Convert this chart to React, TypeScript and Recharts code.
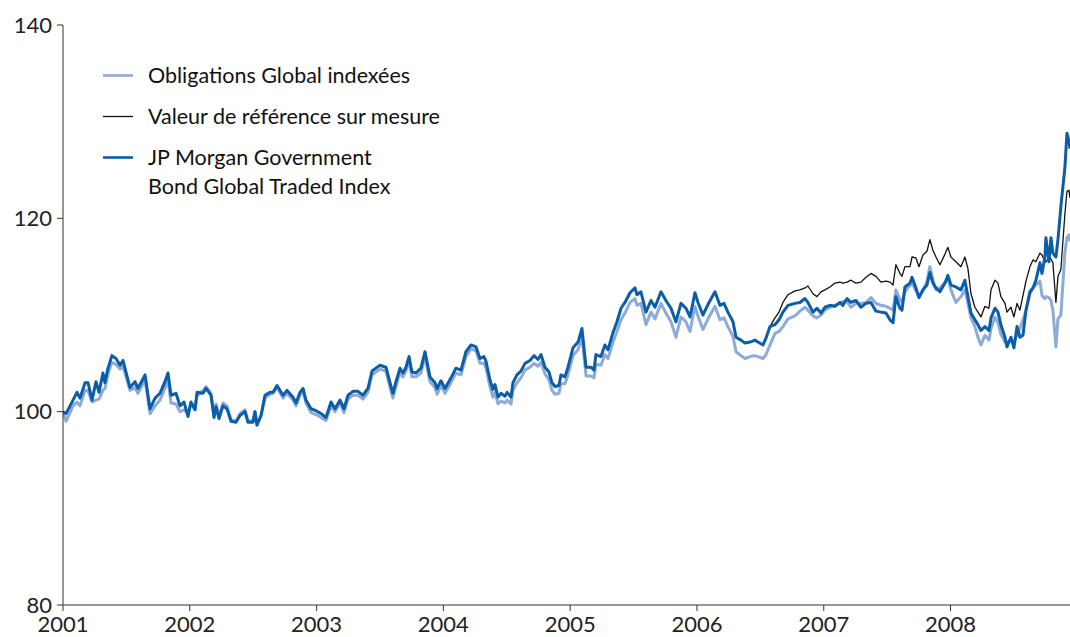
import React from 'react';
import { LineChart, Line, XAxis, YAxis, Legend } from 'recharts';

const YEAR_TICKS = [2001, 2002, 2003, 2004, 2005, 2006, 2007, 2008];
const VALUE_TICKS = [80, 100, 120, 140];

// Dates as decimal years
const DATES = [
  // 2001
  2001.000, 2001.024, 2001.079, 2001.110, 2001.134, 2001.174, 2001.197, 2001.229, 2001.260, 2001.284,
  2001.315, 2001.331, 2001.355, 2001.386, 2001.418, 2001.450, 2001.473, 2001.528, 2001.568, 2001.591,
  2001.647, 2001.686, 2001.726, 2001.765, 2001.804, 2001.828, 2001.852, 2001.891, 2001.923, 2001.954, 2001.986,
  // 2002
  2002.009, 2002.041, 2002.057, 2002.104, 2002.128, 2002.167, 2002.191, 2002.207, 2002.230, 2002.262,
  2002.293, 2002.325, 2002.364, 2002.396, 2002.435, 2002.459, 2002.498, 2002.514, 2002.530, 2002.562,
  2002.593, 2002.632, 2002.656, 2002.688, 2002.735, 2002.767, 2002.814, 2002.838, 2002.869, 2002.893,
  2002.916, 2002.956, 2002.995,
  // 2003
  2003.035, 2003.074, 2003.114, 2003.145, 2003.185, 2003.216, 2003.248, 2003.287, 2003.326, 2003.366,
  2003.405, 2003.437, 2003.468, 2003.500, 2003.547, 2003.579, 2003.602, 2003.626, 2003.658, 2003.681,
  2003.705, 2003.729, 2003.752, 2003.784, 2003.823, 2003.855, 2003.894, 2003.934, 2003.950, 2003.981,
  // 2004
  2004.013, 2004.060, 2004.099, 2004.139, 2004.178, 2004.218, 2004.257, 2004.289, 2004.320, 2004.336,
  2004.367, 2004.391, 2004.407, 2004.431, 2004.454, 2004.486, 2004.502, 2004.533, 2004.549, 2004.580,
  2004.612, 2004.644, 2004.683, 2004.715, 2004.746, 2004.770, 2004.801, 2004.833, 2004.856, 2004.880,
  2004.912, 2004.927, 2004.959, 2004.983,
  // 2005
  2005.022, 2005.062, 2005.093, 2005.125, 2005.164, 2005.188, 2005.203, 2005.243, 2005.274, 2005.298,
  2005.338, 2005.369, 2005.401, 2005.432, 2005.472, 2005.511, 2005.527, 2005.558, 2005.598, 2005.637,
  2005.669, 2005.716, 2005.755, 2005.795, 2005.834, 2005.874, 2005.913, 2005.945, 2005.984,
  // 2006
  2006.008, 2006.047, 2006.095, 2006.142, 2006.181, 2006.213, 2006.244, 2006.284, 2006.308, 2006.347,
  2006.379, 2006.418, 2006.457, 2006.481, 2006.521, 2006.544, 2006.576, 2006.615, 2006.647, 2006.678,
  2006.718, 2006.773, 2006.812, 2006.852, 2006.875, 2006.915, 2006.946, 2006.978,
  // 2007
  2007.009, 2007.049, 2007.088, 2007.128, 2007.151, 2007.183, 2007.214, 2007.254, 2007.293, 2007.333,
  2007.372, 2007.412, 2007.451, 2007.491, 2007.522, 2007.546, 2007.569, 2007.601, 2007.617, 2007.640,
  2007.680, 2007.696, 2007.727, 2007.751, 2007.782, 2007.814, 2007.837, 2007.861, 2007.885, 2007.916,
  2007.956, 2007.979,
  // 2008
  2008.003, 2008.042, 2008.082, 2008.113, 2008.137, 2008.161, 2008.192, 2008.216, 2008.240, 2008.271,
  2008.303, 2008.319, 2008.350, 2008.374, 2008.397, 2008.429, 2008.445, 2008.476, 2008.500, 2008.524,
  2008.547, 2008.571, 2008.595, 2008.626, 2008.650, 2008.673, 2008.705, 2008.721, 2008.744, 2008.752,
  2008.776, 2008.792, 2008.807, 2008.831, 2008.847, 2008.870, 2008.902, 2008.918, 2008.934, 2008.942,
];

// JP Morgan Government Bond Global Traded Index
const JPM = [
  100.0, 99.8, 101.2, 102.0, 101.4, 103.0, 103.0, 101.2, 103.1, 102.0,
  104.0, 103.0, 104.5, 105.8, 105.5, 104.8, 105.3, 102.5, 103.1, 102.4,
  103.8, 100.3, 101.4, 101.9, 103.1, 104.0, 101.7, 101.9, 100.6, 101.0, 99.5,
  101.0, 100.2, 102.0, 101.9, 102.4, 101.7, 99.4, 100.5, 99.3, 100.6,
  100.3, 99.0, 98.9, 99.6, 100.0, 98.9, 98.9, 100.0, 98.6, 99.6,
  101.7, 102.0, 102.0, 102.7, 101.7, 102.2, 101.5, 100.9, 102.0, 102.4,
  101.2, 100.3, 100.1,
  99.8, 99.4, 101.0, 100.3, 101.2, 100.3, 101.7, 102.1, 102.1, 101.7,
  102.4, 104.2, 104.5, 104.8, 104.6, 103.0, 101.9, 103.1, 104.5, 104.0,
  104.6, 105.7, 104.1, 104.0, 104.5, 106.2, 103.6, 103.0, 102.4, 103.2,
  102.4, 103.5, 104.5, 104.3, 106.2, 106.9, 106.7, 105.5, 105.7, 105.2,
  103.3, 102.3, 102.8, 101.5, 101.9, 101.6, 102.0, 101.5, 103.0, 103.8,
  104.2, 105.0, 105.3, 105.8, 105.4, 105.9, 104.6, 104.1, 103.0, 102.6,
  102.7, 103.8, 103.6, 104.6,
  106.6, 107.2, 108.6, 104.6, 104.6, 104.3, 105.9, 105.7, 106.9, 106.4,
  108.2, 109.3, 110.7, 111.3, 112.3, 112.8, 112.1, 112.4, 110.3, 111.5,
  110.8, 112.4, 111.5, 110.7, 109.3, 111.2, 110.7, 109.8, 112.3,
  111.3, 110.0, 111.3, 112.4, 111.0, 111.2, 110.3, 109.3, 107.7, 107.4,
  107.1, 107.2, 107.4, 107.2, 106.9, 107.6, 108.8, 109.0, 109.5, 110.3,
  111.0, 111.2, 111.3, 111.7, 111.3, 110.3, 110.7, 110.2,
  110.8, 111.0, 110.9, 111.3, 111.0, 111.7, 111.3, 111.5, 110.8, 111.2,
  111.3, 110.4, 110.3, 110.2, 109.5, 109.2, 111.9, 110.7, 110.5, 112.9,
  113.3, 113.9, 112.8, 111.8, 112.6, 113.1, 114.4, 113.3, 112.8, 112.4,
  113.3, 114.1,
  113.1, 112.9, 112.6, 113.6, 111.9, 110.2, 109.5, 109.0, 108.4, 108.8,
  108.4, 109.7, 110.7, 110.3, 109.0, 107.7, 106.7, 107.7, 106.6, 108.8,
  107.7, 107.9, 110.5, 112.4, 112.8, 113.6, 115.4, 114.3, 116.0, 118.0,
  115.5, 118.0, 116.4, 116.0, 117.8, 121.2, 125.3, 128.8, 128.0, 127.2,
];

// Obligations Global indexées
const OGI = [
  100.0, 99.0, 100.6, 101.0, 100.6, 102.2, 102.2, 101.0, 101.2, 101.3,
  102.2, 102.4, 103.9, 105.1, 104.9, 104.4, 104.7, 102.2, 102.5, 101.9,
  103.3, 99.8, 100.6, 101.2, 102.4, 103.3, 100.9, 100.8, 100.0, 100.2, 99.8,
  100.8, 100.3, 101.6, 102.2, 102.6, 101.9, 99.8, 100.8, 99.6, 100.9,
  100.6, 99.2, 99.0, 99.8, 100.2, 99.1, 99.0, 100.0, 98.7, 99.6,
  101.4, 101.8, 101.9, 102.5, 101.4, 101.9, 101.2, 100.6, 101.7, 102.1,
  100.9, 99.9, 99.7,
  99.4, 99.1, 100.6, 100.0, 100.9, 99.9, 101.3, 101.7, 101.7, 101.3,
  102.0, 103.8, 104.1, 104.4, 104.2, 102.5, 101.4, 102.6, 104.1, 103.6,
  104.2, 105.3, 103.6, 103.6, 104.0, 105.7, 103.1, 102.5, 101.8, 102.7,
  101.9, 103.0, 104.0, 103.8, 105.7, 106.5, 106.3, 105.0, 105.0, 104.5,
  102.6, 101.5, 102.0, 100.8, 101.1, 100.9, 101.2, 100.8, 102.2, 103.0,
  103.5, 104.3, 104.6, 105.0, 104.7, 105.1, 103.9, 103.3, 102.2, 101.8,
  101.9, 102.9, 102.9, 103.8,
  105.8, 106.4, 107.8, 103.7, 103.7, 103.5, 104.9, 104.8, 105.9, 105.5,
  107.2, 108.3, 109.5, 110.2, 111.3, 111.7, 111.0, 111.2, 109.0, 110.3,
  109.6, 111.2, 110.2, 109.3, 107.7, 109.8, 109.3, 108.3, 110.9,
  109.9, 108.5, 109.8, 110.9, 109.5, 109.7, 108.8, 107.8, 106.2, 105.8,
  105.5, 105.7, 105.8, 105.7, 105.5, 105.9, 106.9, 108.1, 108.3, 108.8,
  109.6, 109.9, 110.4, 110.8, 110.5, 109.9, 109.7, 110.0,
  110.5, 110.8, 111.0, 111.2, 111.4, 111.4, 110.8, 111.2, 111.2, 111.3,
  111.8, 111.2, 111.0, 110.9, 110.7, 110.5, 112.6, 111.6, 111.3, 112.4,
  113.1, 113.3, 112.5, 111.9, 112.5, 113.5, 115.0, 113.6, 112.6, 112.8,
  113.4, 113.8,
  112.6, 111.3, 111.9, 112.6, 111.2, 109.7, 108.8, 107.7, 106.9, 107.9,
  107.4, 108.6, 109.8, 109.2, 108.0, 107.2, 107.1, 107.4, 107.1, 108.0,
  108.6, 109.5, 110.5, 112.2, 112.8, 113.1, 113.5, 112.0, 111.7, 111.9,
  111.8, 111.5, 110.5, 106.7, 109.6, 110.0, 116.5, 118.0, 118.3, 117.6,
];

// Valeur de référence sur mesure (coincides with JPM until mid-2006)
const BENCH = [
  100.0, 99.8, 101.2, 102.0, 101.4, 103.0, 103.0, 101.2, 103.1, 102.0,
  104.0, 103.0, 104.5, 105.8, 105.5, 104.8, 105.3, 102.5, 103.1, 102.4,
  103.8, 100.3, 101.4, 101.9, 103.1, 104.0, 101.7, 101.9, 100.6, 101.0, 99.5,
  101.0, 100.2, 102.0, 101.9, 102.4, 101.7, 99.4, 100.5, 99.3, 100.6,
  100.3, 99.0, 98.9, 99.6, 100.0, 98.9, 98.9, 100.0, 98.6, 99.6,
  101.7, 102.0, 102.0, 102.7, 101.7, 102.2, 101.5, 100.9, 102.0, 102.4,
  101.2, 100.3, 100.1,
  99.8, 99.4, 101.0, 100.3, 101.2, 100.3, 101.7, 102.1, 102.1, 101.7,
  102.4, 104.2, 104.5, 104.8, 104.6, 103.0, 101.9, 103.1, 104.5, 104.0,
  104.6, 105.7, 104.1, 104.0, 104.5, 106.2, 103.6, 103.0, 102.4, 103.2,
  102.4, 103.5, 104.5, 104.3, 106.2, 106.9, 106.7, 105.5, 105.7, 105.2,
  103.3, 102.3, 102.8, 101.5, 101.9, 101.6, 102.0, 101.5, 103.0, 103.8,
  104.2, 105.0, 105.3, 105.8, 105.4, 105.9, 104.6, 104.1, 103.0, 102.6,
  102.7, 103.8, 103.6, 104.6,
  106.6, 107.2, 108.6, 104.6, 104.6, 104.3, 105.9, 105.7, 106.9, 106.4,
  108.2, 109.3, 110.7, 111.3, 112.3, 112.8, 112.1, 112.4, 110.3, 111.5,
  110.8, 112.4, 111.5, 110.7, 109.3, 111.2, 110.7, 109.8, 112.3,
  111.3, 110.0, 111.3, 112.4, 111.0, 111.2, 110.3, 109.3, 107.7, 107.4,
  107.1, 107.2, 107.4, 107.2, 106.9, 107.6, 108.8, 109.7, 110.3, 111.3,
  112.1, 112.5, 112.6, 112.8, 113.0, 112.2, 111.9, 112.4,
  112.6, 112.9, 113.3, 113.4, 113.3, 113.4, 113.6, 113.3, 113.4, 113.9,
  114.3, 114.0, 113.4, 113.5, 113.4, 113.1, 115.2, 114.3, 114.0, 115.0,
  115.0, 116.0, 115.9, 115.0, 116.2, 116.6, 117.8, 116.7, 116.0, 115.2,
  116.3, 117.0,
  116.0, 115.5, 115.0, 116.0, 114.8, 112.2, 110.8, 110.3, 109.8, 110.9,
  110.7, 112.6, 113.6, 113.3, 111.9, 111.2, 110.3, 110.8, 109.8, 111.2,
  110.5, 112.0, 113.5, 115.0, 115.7, 115.5, 116.4, 116.2, 115.5, 115.5,
  116.0, 115.8, 115.4, 111.3, 114.0, 114.7, 120.5, 122.8, 122.9, 122.1,
];

const SERIES = [
  { key: 'ogi', name: 'Obligations Global indexées', color: '#8EAAD9', width: 3 },
  { key: 'bench', name: 'Valeur de référence sur mesure', color: '#111111', width: 1.3 },
  { key: 'jpm', name: 'JP Morgan Government\nBond Global Traded Index', color: '#0A5EA8', width: 3 },
];

const data = DATES.map((t, i) => ({ t, ogi: OGI[i], bench: BENCH[i], jpm: JPM[i] }));

const FONT = 'Lato, "Noto Sans", sans-serif';

const LegendContent = () => (
  <div style={{ fontFamily: FONT, fontSize: 21.5, color: '#111' }}>
    {SERIES.map((s) => (
      <div key={s.key} style={{ display: 'flex', alignItems: 'flex-start', marginBottom: 12 }}>
        <svg width={30} height={29} style={{ flex: 'none' }}>
          <line x1={0} x2={30} y1={14.5} y2={14.5} stroke={s.color} strokeWidth={s.key === 'bench' ? 1.3 : 2.6} />
        </svg>
        <span style={{ marginLeft: 15, lineHeight: '29px', whiteSpace: 'pre-line' }}>{s.name}</span>
      </div>
    ))}
  </div>
);

export default function App() {
  return (
    <div style={{ position: 'absolute', left: 0, top: 0, background: '#fff' }}>
      <LineChart width={1070} height={637} data={data} margin={{ top: 25, right: 0, bottom: 0, left: 0 }}>
        <XAxis
          dataKey="t"
          type="number"
          domain={[2001, 2008.942]}
          ticks={YEAR_TICKS}
          allowDataOverflow
          height={32}
          stroke="#333"
          tickSize={6}
          tickMargin={5}
          tick={{ fontSize: 22, fill: '#222', fontFamily: FONT }}
        />
        <YAxis
          type="number"
          domain={[80, 140]}
          ticks={VALUE_TICKS}
          width={63}
          stroke="#333"
          tickSize={6}
          tickMargin={5}
          tick={{ fontSize: 22, fill: '#222', fontFamily: FONT }}
        />
        <Legend
          layout="vertical"
          align="center"
          verticalAlign="middle"
          content={<LegendContent />}
          wrapperStyle={{ position: 'absolute', left: 103, top: 60.5, width: 460 }}
        />
        {SERIES.map((s) => (
          <Line
            key={s.key}
            dataKey={s.key}
            name={s.name}
            type="linear"
            stroke={s.color}
            strokeWidth={s.width}
            dot={false}
            activeDot={false}
            isAnimationActive={false}
            strokeLinejoin="round"
          />
        ))}
      </LineChart>
    </div>
  );
}
